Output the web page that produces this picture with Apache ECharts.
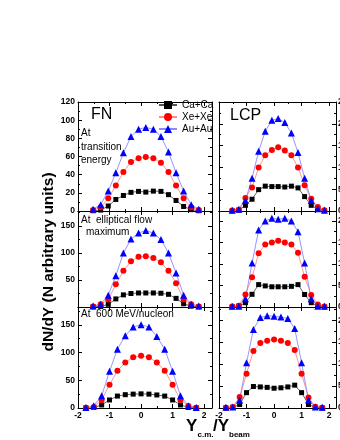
<!DOCTYPE html>
<html>
<head>
<meta charset="utf-8">
<script src="https://cdn.jsdelivr.net/npm/echarts@6/dist/echarts.min.js"></script>
<style>
  html, body { margin: 0; padding: 0; background: #fff; }
  #chart { width: 340px; height: 440px; }
</style>
</head>
<body>
<div id="chart"></div>
<script>
// rapidity bins: upper two rows are shifted a bit, bottom row is the 0.25 grid
const yShift = [-1.52, -1.28, -1.04, -0.80, -0.56, -0.32, -0.08, 0.15, 0.39, 0.63, 0.87, 1.11, 1.35, 1.59, 1.83];
const yStd = [-1.75, -1.5, -1.25, -1, -0.75, -0.5, -0.25, 0, 0.25, 0.5, 0.75, 1, 1.25, 1.5, 1.75];

const seriesNames = ['Ca+Ca', 'Xe+Xe', 'Au+Au'];
const panelTitles = ['FN', 'LCP'];
const topLeftTicks = [0, 20, 40, 60, 80, 100, 120];

// FN, at transition energy
const fnTransCa = [0.3, 1, 5.5, 12.7, 17.1, 20.5, 21.6, 20.8, 21.9, 21.6, 18, 11.6, 5, 1.5, 0.3];
const fnTransXe = [1, 4, 14, 28, 43, 54, 58, 59.5, 58, 53, 43, 28, 14, 4, 1];
const fnTransAu = [2, 7, 22, 42, 64, 82, 90, 92, 90, 82, 65, 42, 22, 7, 2];
// LCP, at transition energy
const lcpTransCa = [0.5, 2, 13, 27, 49, 57, 56, 56, 55, 57, 53, 33, 13, 4, 1];
const lcpTransXe = [1, 3, 30, 54, 100, 128, 140, 146, 139, 128, 100, 59, 28, 9, 2];
const lcpTransAu = [2, 4, 24, 75, 137, 183, 208, 212, 203, 179, 134, 75, 24, 5, 2];
// FN, at elliptical flow maximum
const fnEllCa = [0.5, 1, 5, 15, 22.5, 25, 26, 26, 26, 25.5, 23.5, 16, 6, 1.5, 0.5];
const fnEllXe = [1, 5, 14, 42, 67, 85, 93, 94, 91, 83, 67, 44, 14, 5, 1];
const fnEllAu = [2, 5, 22, 58, 100, 126, 137, 142, 137, 125, 100, 63, 22, 5, 2];
// LCP, at elliptical flow maximum
const lcpEllCa = [0.5, 2, 10, 29.5, 52, 49, 47, 47, 47, 48, 52, 29, 10, 2, 0.5];
const lcpEllXe = [1, 3, 29, 69, 125, 145, 150, 154, 150, 145, 126, 70, 28, 6, 1];
const lcpEllAu = [2, 2, 19, 102, 179, 200, 206, 204, 206, 200, 175, 102, 19, 2, 2];
// FN, at 600 MeV/nucleon
const fn600Ca = [0.3, 1, 5.5, 14.5, 21.5, 24, 25, 25.5, 25, 23.5, 21.5, 14.5, 5.5, 1, 0.3];
const fn600Xe = [0.5, 2, 14.5, 42, 67, 82, 91.5, 94, 91.5, 82, 67, 42, 14.5, 3.5, 0.5];
const fn600Au = [1, 4, 22, 66, 106, 130, 146, 150, 146, 129, 106, 66, 22, 4, 1];
// LCP, at 600 MeV/nucleon
const lcp600Ca = [0.3, 1.5, 8, 35, 49, 48, 47, 45, 46, 48, 52, 35, 8, 1.5, 0.3];
const lcp600Xe = [0.5, 2, 25, 78, 130, 148, 153, 156, 153, 148, 132, 78, 24, 3, 0.5];
const lcp600Au = [1.5, 2, 18, 103, 179, 206, 210, 209, 207, 204, 181, 103, 18, 2, 1.5];

const panels = [
  { xs: yShift, vals: [fnTransCa, fnTransXe, fnTransAu] },
  { xs: yShift, vals: [lcpTransCa, lcpTransXe, lcpTransAu] },
  { xs: yShift, vals: [fnEllCa, fnEllXe, fnEllAu] },
  { xs: yShift, vals: [lcpEllCa, lcpEllXe, lcpEllAu] },
  { xs: yStd, vals: [fn600Ca, fn600Xe, fn600Au] },
  { xs: yStd, vals: [lcp600Ca, lcp600Xe, lcp600Au] }
];

const yMax = [120, 250, 178, 223, 182, 230];
const yStep = [20, 50, 50, 50, 50, 50];

const grids = [
  { left: 78, top: 102, width: 134, height: 109 },
  { left: 219, top: 102, width: 117, height: 109 },
  { left: 78, top: 211, width: 134, height: 96 },
  { left: 219, top: 211, width: 117, height: 96 },
  { left: 78, top: 307, width: 134, height: 101 },
  { left: 219, top: 307, width: 117, height: 101 }
].map(g => Object.assign({ outerBoundsMode: 'none', containLabel: false }, g));

const font = 'Liberation Sans, Arial, sans-serif';
const markStyle = [
  { symbol: 'rect', size: 5, color: '#000000', line: '#555555' },
  { symbol: 'circle', size: 6, color: '#ff0000', line: '#ff8888' },
  { symbol: 'triangle', size: 7, color: '#0000ff', line: '#8a8aff' }
];

const axisLine = { show: true, onZero: false, lineStyle: { color: '#000', width: 1 } };
const tick = { show: true, inside: true, length: 4, lineStyle: { color: '#000' } };
const minor = { show: true, splitNumber: 2, length: 2, lineStyle: { color: '#000' } };

const xAxis = [], yAxis = [], series = [];
grids.forEach((g, i) => {
  const bottomRow = i >= 4;
  const leftCol = i % 2 === 0;
  [ 'bottom', 'top' ].forEach(pos => {
    xAxis.push({
      type: 'value', gridIndex: i, position: pos, min: -2, max: 2.25, interval: 1,
      axisLine: axisLine, axisTick: tick, minorTick: minor, splitLine: { show: false },
      axisLabel: {
        show: pos === 'bottom' && bottomRow, margin: 3, color: '#000',
        fontSize: 8.5, fontWeight: 'bold', fontFamily: font,
        formatter: v => Number.isInteger(v) ? String(v) : ''
      }
    });
  });
  [ 'left', 'right' ].forEach(pos => {
    const showLab = (pos === 'left' && leftCol) || (pos === 'right' && !leftCol);
    const label = {
      show: showLab, margin: pos === 'left' ? 3 : 2, color: '#000',
      fontSize: 8.5, fontWeight: 'bold', fontFamily: font,
      hideOverlap: false,
      showMinLabel: i !== 2,
      showMaxLabel: yMax[i] % yStep[i] === 0
    };
    // top-left panel: list its labels so the zero at the bottom is kept
    if (i === 0 && pos === 'left') label.customValues = topLeftTicks;
    yAxis.push({
      type: 'value', gridIndex: i, position: pos, min: 0, max: yMax[i], interval: yStep[i],
      axisLine: axisLine, axisTick: tick, minorTick: minor, splitLine: { show: false },
      axisLabel: label
    });
  });
  panels[i].vals.forEach((vals, s) => {
    const m = markStyle[s];
    series.push({
      name: seriesNames[s], type: 'line',
      xAxisIndex: 2 * i, yAxisIndex: 2 * i,
      data: panels[i].xs.map((x, k) => [x, vals[k]]),
      symbol: m.symbol, symbolSize: m.size,
      itemStyle: { color: m.color },
      lineStyle: { color: m.line, width: 0.9 },
      emphasis: { disabled: true }
    });
  });
});

const txt = (x, y, text, size, extra) => ({
  type: 'text', x: x, y: y, z: 100,
  style: Object.assign({
    text: text, fill: '#000', font: size + 'px ' + font,
    textVerticalAlign: 'middle'
  }, extra || {})
});

const graphic = [
  txt(91, 115, panelTitles[0], 16),
  txt(230, 116, panelTitles[1], 16),
  txt(81, 127, 'At\ntransition\nenergy', 10, { lineHeight: 13.3, textVerticalAlign: 'top' }),
  txt(81, 220, 'At  elliptical flow', 10),
  txt(86, 232.5, 'maximum', 10),
  txt(81, 314.5, 'At  600 MeV/nucleon', 10),
  { type: 'text', x: 49, y: 262, rotation: Math.PI / 2,
    style: { text: 'dN/dY (N arbitrary units)', fill: '#000',
      font: 'bold 15.5px ' + font, textAlign: 'center', textVerticalAlign: 'middle' } },
  txt(186, 426, 'Y', 17, { font: 'bold 17px ' + font }),
  txt(197.5, 434.5, 'c.m.', 8, { font: 'bold 8px ' + font }),
  txt(213, 426, '/Y', 17, { font: 'bold 17px ' + font }),
  txt(229, 434.5, 'beam', 8, { font: 'bold 8px ' + font })
];

const chart = echarts.init(document.getElementById('chart'));
chart.setOption({
  animation: false,
  backgroundColor: '#fff',
  grid: grids,
  xAxis: xAxis,
  yAxis: yAxis,
  legend: {
    data: seriesNames, orient: 'vertical', left: 158, top: 100,
    itemWidth: 18, itemHeight: 10, itemGap: 2, padding: 0,
    textStyle: { fontSize: 10, fontFamily: font, color: '#000' },
    selectedMode: false
  },
  series: series,
  graphic: graphic
});
</script>
</body>
</html>
